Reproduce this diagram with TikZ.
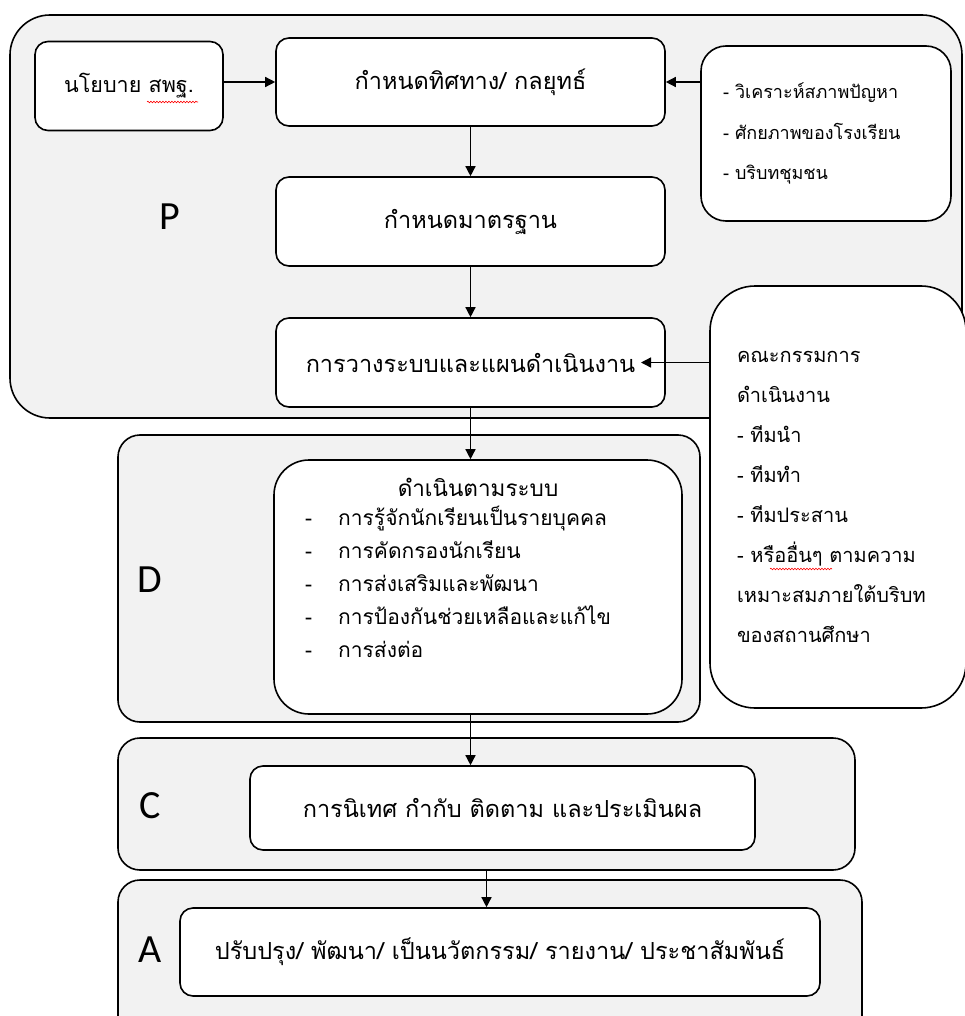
\documentclass[tikz,border=0pt]{standalone}
\usepackage{fontspec}
\usetikzlibrary{arrows.meta,decorations.pathmorphing}
\newfontfamily\thai[Script=Thai]{Loma}
\newfontfamily\lat{Carlito}
\definecolor{panel}{HTML}{F2F2F2}
\begin{document}
\begin{tikzpicture}[x=1pt,y=-1pt,
  panelbox/.style={draw=black, line width=1.6pt, fill=panel, rounded corners=22pt, inner sep=0pt},
  whitebox/.style={draw=black, line width=1.6pt, fill=white, rounded corners=13pt, inner sep=0pt,
     font=\thai\fontsize{23.5}{28}\selectfont},
  bigletter/.style={font=\lat\fontsize{40}{44}\selectfont, inner sep=0pt},
  arr/.style={line width=1.4pt, -{Triangle[length=10pt,width=10pt]}},
  squig/.style={draw=red, line width=0.6pt, decorate, decoration={snake, amplitude=0.8pt, segment length=3pt}}
]
\useasboundingbox (0,0) rectangle (964,1016);

% P panel
\node[panelbox, rounded corners=40pt, minimum width=952pt, minimum height=403pt] (P) at (486,216.5) {};
\node[bigletter] (Plab) at (170,217) {P};

\node[whitebox, minimum width=188pt, minimum height=89pt, font=\thai\fontsize{21.5}{26}\selectfont] (nyb) at (129,86) {นโยบาย สพฐ.};
\node[whitebox, minimum width=389pt, minimum height=88pt] (dir) at (470.5,82) {กำหนดทิศทาง/ กลยุทธ์};
\node[whitebox, rounded corners=25pt, minimum width=250pt, minimum height=175pt,
      text width=206pt, align=left, font=\thai\fontsize{18}{40.5}\selectfont] (ana) at (826,133.5)
  {- วิเคราะห์สภาพปัญหา\\- ศักยภาพของโรงเรียน\\- บริบทชุมชน};
\node[whitebox, minimum width=389pt, minimum height=89pt] (std) at (470.5,221.5) {กำหนดมาตรฐาน};
\node[whitebox, minimum width=389pt, minimum height=89pt] (plan) at (470.5,362.5) {การวางระบบและแผนดำเนินงาน};

% committee
\node[whitebox, rounded corners=45pt, minimum width=256pt, minimum height=422pt,
      text width=202pt, align=left, font=\thai\fontsize{20}{40}\selectfont] (com) at (838,497)
  {คณะกรรมการ\\ดำเนินงาน\\- ทีมนำ\\- ทีมทำ\\- ทีมประสาน\\- หรืออื่นๆ ตามความ\\เหมาะสมภายใต้บริบท\\ของสถานศึกษา};

% D panel
\node[panelbox, minimum width=582pt, minimum height=287pt] (D) at (409,578.5) {};
\node[bigletter] (Dlab) at (150,580) {D};
\node[whitebox, rounded corners=35pt, minimum width=408pt, minimum height=254pt] (Dbox) at (478,587) {};
\node[font=\thai\fontsize{22.5}{26}\selectfont, inner sep=0pt] (Dtitle) at (478,487) {ดำเนินตามระบบ};
\node[font=\thai\fontsize{21}{33}\selectfont, inner sep=0pt, anchor=north west, align=left] (Dlist) at (305,506)
  {\makebox[33pt][l]{-}การรู้จักนักเรียนเป็นรายบุคคล\\
   \makebox[33pt][l]{-}การคัดกรองนักเรียน\\
   \makebox[33pt][l]{-}การส่งเสริมและพัฒนา\\
   \makebox[33pt][l]{-}การป้องกันช่วยเหลือและแก้ไข\\
   \makebox[33pt][l]{-}การส่งต่อ};

% C panel
\node[panelbox, minimum width=737pt, minimum height=132pt] (C) at (486.5,804) {};
\node[bigletter] (Clab) at (150,806) {C};
\node[whitebox, minimum width=505pt, minimum height=84pt] (Cbox) at (502.5,808) {การนิเทศ กำกับ ติดตาม และประเมินผล};

% A panel
\node[panelbox, minimum width=744pt, minimum height=170pt] (A) at (490,965) {};
\node[bigletter] (Alab) at (150,950) {A};
\node[whitebox, minimum width=640pt, minimum height=88pt] (Abox) at (500,952) {ปรับปรุง/ พัฒนา/ เป็นนวัตกรรม/ รายงาน/ ประชาสัมพันธ์};

% connectors
\coordinate (planin) at (641,362.5);
\draw[arr] (nyb.east |- dir.west) -- (dir.west);
\draw[arr] (ana.west |- dir.east) -- (dir.east);
\draw[arr] (dir.south) -- (std.north);
\draw[arr] (std.south) -- (plan.north);
\draw[arr] (com.west |- planin) -- (planin);
\draw[arr] (plan.south) -- (plan.south |- Dbox.north);
\draw[arr] (Dbox.south -| plan.south) -- (plan.south |- Cbox.north);
\draw[arr] (C.south) -- (C.south |- Abox.north);

% spell-check marks
\coordinate (sq1a) at (147,102); \coordinate (sq1b) at (198,102);
\coordinate (sq2a) at (770,569); \coordinate (sq2b) at (832,569);
\draw[squig] (sq1a) -- (sq1b);
\draw[squig] (sq2a) -- (sq2b);
\end{tikzpicture}
\end{document}
